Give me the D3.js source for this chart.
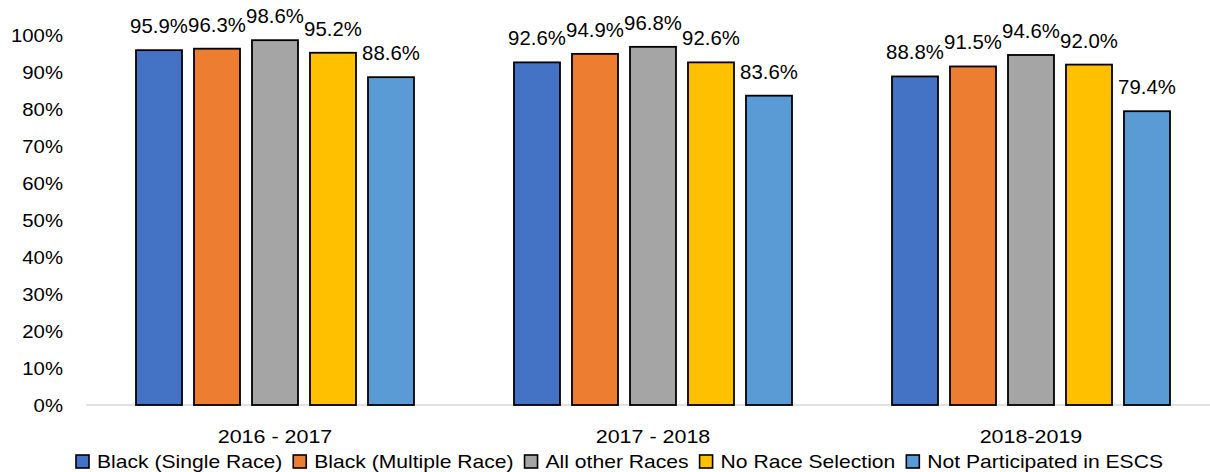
<!DOCTYPE html>
<html><head><meta charset="utf-8">
<script src="https://cdn.jsdelivr.net/npm/d3@7"></script>
<style>body{margin:0;background:#fff}svg{display:block}text{font-family:"Liberation Sans",Arial,sans-serif;fill:#000}</style>
</head><body><svg id="c" width="1210" height="472"></svg>
<script>
const categories = ["2016 - 2017", "2017 - 2018", "2018-2019"];
const seriesNames = ["Black (Single Race)", "Black (Multiple Race)", "All other Races", "No Race Selection", "Not Participated in ESCS"];
const blackSingle = [95.9, 92.6, 88.8];
const blackMultiple = [96.3, 94.9, 91.5];
const otherRaces = [98.6, 96.8, 94.6];
const noSelection = [95.2, 92.6, 92.0];
const notParticipated = [88.6, 83.6, 79.4];
const yTicks = [0, 10, 20, 30, 40, 50, 60, 70, 80, 90, 100];
const colors = ["#4472C4", "#ED7D31", "#A5A5A5", "#FFC000", "#5B9BD5"];

const seriesValues = [blackSingle, blackMultiple, otherRaces, noSelection, notParticipated];
const svg = d3.select("#c");
const x0 = d3.scaleBand().domain(categories).range([86, 1220]).paddingInner(0).paddingOuter(0);
const bw = x0.bandwidth();
const inner = d3.scaleBand().domain(seriesNames).range([(bw-278)/2, (bw+278)/2]).paddingInner(12/58).paddingOuter(0);
const y = d3.scaleLinear().domain([0, 100]).range([405, 35]);

function stretch(sel, k) {
  sel.each(function() {
    const w = this.getComputedTextLength();
    d3.select(this).attr("textLength", w * k).attr("lengthAdjust", "spacingAndGlyphs");
  });
}

// y tick labels
svg.append("g").selectAll("text").data(yTicks).join("text")
  .attr("x", 63).attr("y", d => y(d)).attr("dy", "0.35em")
  .attr("text-anchor", "end").style("font-size", "19px")
  .text(d => d + "%").call(stretch, 1.07);

// axis line
svg.append("line").attr("x1", 86).attr("x2", 1210).attr("y1", y(0)).attr("y2", y(0))
  .attr("stroke", "#d9d9d9").attr("stroke-width", 1.5);

const groups = svg.append("g").selectAll("g").data(categories).join("g")
  .attr("transform", d => `translate(${x0(d)},0)`);

groups.each(function(cat, ci) {
  const g = d3.select(this);
  const data = seriesNames.map((s, si) => ({s, si, v: seriesValues[si][ci]}));
  g.selectAll("rect").data(data).join("rect")
    .attr("x", d => inner(d.s)).attr("width", inner.bandwidth())
    .attr("y", d => y(d.v)).attr("height", d => y(0) - y(d.v))
    .attr("fill", d => colors[d.si]).attr("stroke", "#000").attr("stroke-width", 1.8);
  g.selectAll("text.lbl").data(data).join("text").attr("class", "lbl")
    .attr("x", d => inner(d.s) + inner.bandwidth()/2).attr("y", d => y(d.v) - 17)
    .attr("text-anchor", "middle").style("font-size", "21px")
    .text(d => d.v.toFixed(1) + "%").call(stretch, 0.97);
});

// category labels
svg.append("g").selectAll("text").data(categories).join("text")
  .attr("x", d => x0(d) + bw/2).attr("y", 443).attr("text-anchor", "middle")
  .style("font-size", "19px").text(d => d).call(stretch, 1.13);

// legend
const lg = svg.append("g");
const items = lg.selectAll("g").data(seriesNames).join("g");
items.append("rect").attr("width", 13).attr("height", 13).attr("y", -13)
  .attr("fill", (d, i) => colors[i]).attr("stroke", "#000").attr("stroke-width", 1.6);
const ltexts = items.append("text").attr("x", 21).attr("y", 0).style("font-size", "19px").text(d => d);
let sumW = 0;
ltexts.each(function() { sumW += this.getComputedTextLength(); });
const gap = 11, target = 1163 - 76;
const k = (target - 5 * 21 - 4 * gap) / sumW;
let xpos = 0;
items.each(function() {
  const it = d3.select(this);
  const t = it.select("text");
  const w = t.node().getComputedTextLength() * k;
  t.attr("textLength", w).attr("lengthAdjust", "spacingAndGlyphs");
  it.attr("transform", `translate(${xpos},0)`);
  xpos += 21 + w + gap;
});
lg.attr("transform", `translate(76,468)`);
</script></body></html>
